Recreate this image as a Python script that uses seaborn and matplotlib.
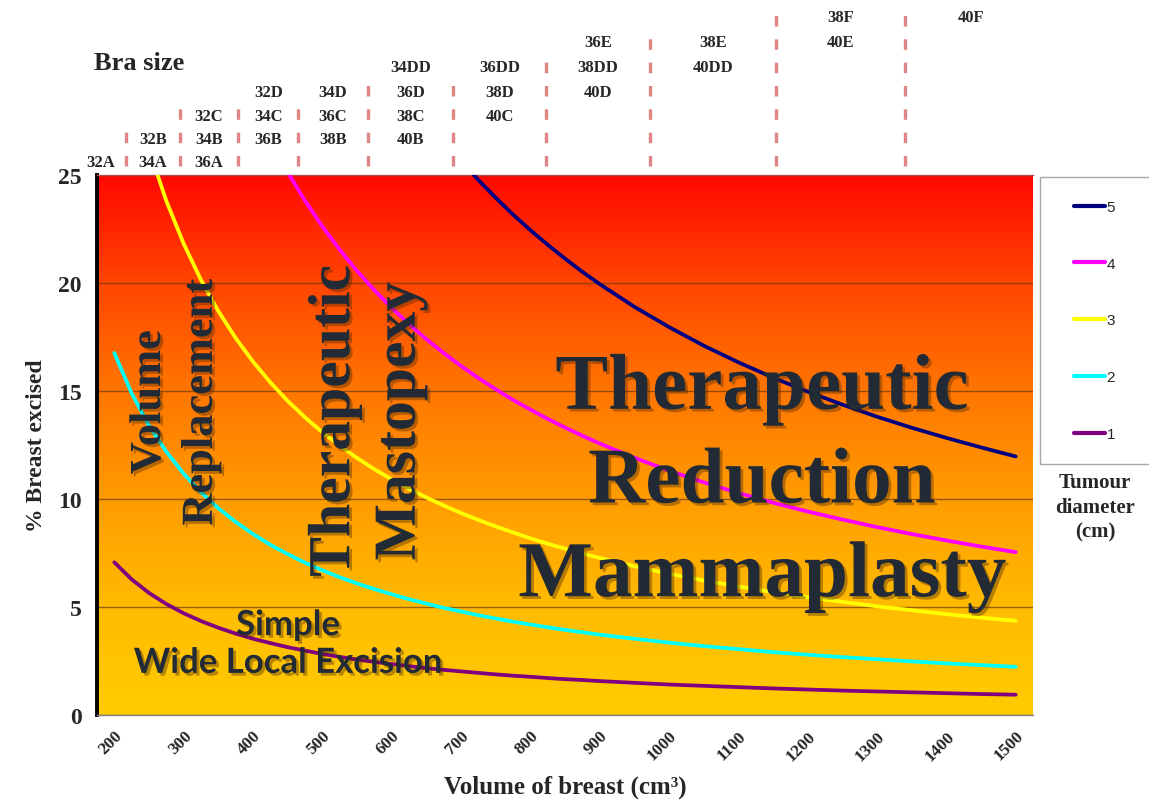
import numpy as np
import pandas as pd
import matplotlib
matplotlib.use("Agg")
import matplotlib.pyplot as plt
import matplotlib.patheffects as pe
from matplotlib.colors import LinearSegmentedColormap
from matplotlib.transforms import blended_transform_factory
from matplotlib.legend_handler import HandlerLine2D
from matplotlib.lines import Line2D
import seaborn as sns

# ---------------- data ----------------
volumes = [200, 225, 250, 275, 300, 325, 350, 375, 400, 425, 450, 475, 500, 525, 550, 575,
           600, 625, 650, 675, 700, 725, 750, 775, 800, 825, 850, 875, 900, 950, 1000,
           1050, 1100, 1150, 1200, 1250, 1300, 1350, 1400, 1450, 1500]
d1 = [7.07, 6.28, 5.65, 5.14, 4.71, 4.35, 4.04, 3.77, 3.53, 3.33, 3.14, 2.98, 2.83, 2.69, 2.57, 2.46,
      2.36, 2.26, 2.17, 2.09, 2.02, 1.95, 1.88, 1.82, 1.77, 1.71, 1.66, 1.62, 1.57, 1.49, 1.41,
      1.35, 1.29, 1.23, 1.18, 1.13, 1.09, 1.05, 1.01, 0.97, 0.94]
d2 = [16.76, 14.89, 13.40, 12.19, 11.17, 10.31, 9.57, 8.94, 8.38, 7.88, 7.45, 7.05, 6.70, 6.38, 6.09, 5.83,
      5.59, 5.36, 5.16, 4.96, 4.79, 4.62, 4.47, 4.32, 4.19, 4.06, 3.94, 3.83, 3.72, 3.53, 3.35,
      3.19, 3.05, 2.91, 2.79, 2.68, 2.58, 2.48, 2.39, 2.31, 2.23]
d3 = [32.72, 29.09, 26.18, 23.80, 21.82, 20.14, 18.70, 17.45, 16.36, 15.40, 14.54, 13.78, 13.09, 12.47, 11.90, 11.38,
      10.91, 10.47, 10.07, 9.70, 9.35, 9.03, 8.73, 8.45, 8.18, 7.93, 7.70, 7.48, 7.27, 6.89, 6.54,
      6.23, 5.95, 5.69, 5.45, 5.24, 5.03, 4.85, 4.67, 4.51, 4.36]
d4 = [56.55, 50.27, 45.24, 41.13, 37.70, 34.80, 32.31, 30.16, 28.27, 26.61, 25.13, 23.81, 22.62, 21.54, 20.56, 19.67,
      18.85, 18.10, 17.40, 16.76, 16.16, 15.60, 15.08, 14.59, 14.14, 13.71, 13.31, 12.93, 12.57, 11.91, 11.31,
      10.77, 10.28, 9.83, 9.42, 9.05, 8.70, 8.38, 8.08, 7.80, 7.54]
d5 = [89.80, 79.82, 71.84, 65.31, 59.86, 55.26, 51.31, 47.89, 44.90, 42.26, 39.91, 37.81, 35.92, 34.21, 32.65, 31.23,
      29.93, 28.73, 27.63, 26.61, 25.66, 24.77, 23.95, 23.17, 22.45, 21.77, 21.13, 20.52, 19.95, 18.90, 17.96,
      17.10, 16.33, 15.62, 14.97, 14.37, 13.81, 13.30, 12.83, 12.39, 11.97]
diameters = ["5", "4", "3", "2", "1"]
series = {"1": d1, "2": d2, "3": d3, "4": d4, "5": d5}

x_tick_labels = ["200", "300", "400", "500", "600", "700", "800", "900", "1000",
                 "1100", "1200", "1300", "1400", "1500"]

# bra size columns (bottom -> top) and volume boundaries between them
bra_columns = [["32A"], ["34A", "32B"], ["36A", "34B", "32C"], ["36B", "34C", "32D"],
               ["38B", "36C", "34D"], ["40B", "38C", "36D", "34DD"], ["40C", "38D", "36DD"],
               ["40D", "38DD", "36E"], ["40DD", "38E"], ["40E", "38F"], ["40F"]]
bra_base_row = [0, 0, 0, 1, 1, 1, 2, 3, 4, 5, 6]
bra_bounds = [217, 294, 379, 465, 566, 689, 823, 972, 1155, 1341]

# ---------------- styling ----------------
sns.set_style("white")
plt.rcParams["font.family"] = ["Liberation Serif", "DejaVu Serif"]

W, H = 1149, 804
fig = plt.figure(figsize=(W / 100, H / 100), dpi=100)
L, R, T, B = 97, 1033, 176, 716
ax = fig.add_axes([L / W, 1 - B / H, (R - L) / W, (B - T) / H])

def fy(py):
    return 1 - py / H

def fx(px):
    return px / W

# gradient background
cmap = LinearSegmentedColormap.from_list(
    "bg", [(0.0, "#FFCC00"), (0.2, "#FFBB00"), (0.4, "#FF9C00"),
           (0.6, "#FF7600"), (0.8, "#FF4600"), (1.0, "#FF0800")])
grad = np.linspace(0, 1, 256).reshape(-1, 1)
ax.imshow(grad, extent=[175, 1525, 0, 25], aspect="auto", origin="lower",
          cmap=cmap, zorder=0, interpolation="bicubic")

# curves
rows = []
for d in diameters:
    for v, p in zip(volumes, series[d]):
        rows.append({"Volume": v, "Excised": p, "Diameter": d})
df = pd.DataFrame(rows)
palette = {"5": "#000080", "4": "#FF00FF", "3": "#FFFF00", "2": "#00FFFF", "1": "#800080"}
sns.lineplot(data=df, x="Volume", y="Excised", hue="Diameter", hue_order=diameters,
             palette=palette, linewidth=2.7, ax=ax, zorder=3)
for ln in ax.get_lines():
    ln.set_solid_capstyle("round")
    ln.set_solid_joinstyle("round")

ax.set_xlim(175, 1525)
ax.set_ylim(0, 25)

# grid
ax.set_yticks([0, 5, 10, 15, 20, 25])
ax.set_yticks(np.arange(0, 26, 1), minor=True)
ax.yaxis.grid(True, which="major", color="#6b3a10", alpha=0.7, linewidth=1.0)
for gl in ax.get_ygridlines():
    gl.set_zorder(1)

# x ticks: labels at category centres, tick marks at category boundaries
ax.set_xticks([int(t) for t in x_tick_labels])
ax.set_xticklabels(x_tick_labels, rotation=45, ha="right", va="top",
                   rotation_mode="anchor", fontsize=12.5, fontweight="bold")
ax.set_xticks(np.arange(175, 1526, 50), minor=True)
ax.tick_params(axis="x", which="major", length=0, pad=9)
ax.tick_params(axis="x", which="minor", length=5, width=1, color="#808080", direction="out")
ax.tick_params(axis="y", which="major", length=7, width=2, color="black", direction="out",
               labelsize=17, pad=4)
ax.tick_params(axis="y", which="minor", length=4, width=1.5, color="black", direction="out")
for lab in ax.get_yticklabels():
    lab.set_fontweight("bold")

ax.spines["right"].set_visible(False)
ax.spines["top"].set_linewidth(1.0)
ax.spines["top"].set_color("#b05050")
ax.spines["left"].set_linewidth(2.8)
ax.spines["left"].set_color("black")
ax.spines["bottom"].set_linewidth(1.0)
ax.spines["bottom"].set_color("#808080")

ax.set_xlabel("Volume of breast (cm³)", fontsize=18, fontweight="bold", labelpad=8)
ax.set_ylabel("% Breast excised", fontsize=17, fontweight="bold", labelpad=8)

# legend
handles, labels = ax.get_legend_handles_labels()
leg = ax.legend(handles, labels, loc="upper left",
                bbox_to_anchor=(fx(1040), fy(462), 0.13, (462 - 178) / H),
                bbox_transform=fig.transFigure, mode="expand", borderaxespad=0,
                frameon=True, fancybox=False, edgecolor="#909090",
                handlelength=2.75, handletextpad=0.1, labelspacing=2.8, borderpad=1.5,
                handler_map={Line2D: HandlerLine2D(xpad=0.7)},
                prop={"family": "Liberation Sans", "size": 11})
leg.get_frame().set_linewidth(1.0)
for ln in leg.get_lines():
    ln.set_linewidth(3)
    ln.set_solid_capstyle("round")

fig.text(fx(1095), fy(508), "Tumour\ndiameter\n(cm)", ha="center", va="center",
         fontsize=15, fontweight="bold", linespacing=1.32)

# region labels
txt_col = "#222a36"
shadow = [pe.SimplePatchShadow(offset=(2, -2), shadow_rgbFace="#4a2a00", alpha=0.4), pe.Normal()]
fig.text(fx(175), fy(403), "Volume\nReplacement", rotation=90, ha="center", va="center",
         fontsize=32, fontweight="bold", color=txt_col, linespacing=1.38, path_effects=shadow)
fig.text(fx(368), fy(422), "Therapeutic\nMastopexy", rotation=90, ha="center", va="center",
         fontsize=43, fontweight="bold", color=txt_col, linespacing=1.28, path_effects=shadow)
fig.text(fx(762), fy(485), "Therapeutic\nReduction\nMammaplasty", ha="center", va="center",
         fontsize=57, fontweight="bold", color=txt_col, linespacing=1.42, path_effects=shadow)
fig.text(fx(288), fy(645), "Simple\nWide Local Excision", ha="center", va="center",
         fontsize=25, fontweight="bold", family=["Lato", "DejaVu Sans"], color=txt_col,
         linespacing=1.22, path_effects=shadow)

# bra sizes
bt = blended_transform_factory(ax.transData, fig.transFigure)
dash_tops = [132, 109, 109, 109, 85.5, 85.5, 62.3, 39, 15.7, 15.7]
for b, top in zip(bra_bounds, dash_tops):
    ax.plot([b, b], [fy(167), fy(top)], transform=bt, clip_on=False,
            color="#E08585", linewidth=2.4, linestyle=(0, (3.15, 3.85)),
            dash_capstyle="butt")
edges = [143] + bra_bounds + [1529]
row_y = [163, 140, 117, 93, 68, 43, 18]
for i, col in enumerate(bra_columns):
    cx = (edges[i] + edges[i + 1]) / 2
    for j, lab in enumerate(col):
        ax.text(cx, fy(row_y[bra_base_row[i] + j]), lab, transform=bt, ha="center",
                va="center", fontsize=12, fontweight="bold", clip_on=False)
fig.text(fx(139), fy(64), "Bra size", ha="center", va="center", fontsize=19,
         fontweight="bold")

fig.savefig("out.png", dpi=100)
